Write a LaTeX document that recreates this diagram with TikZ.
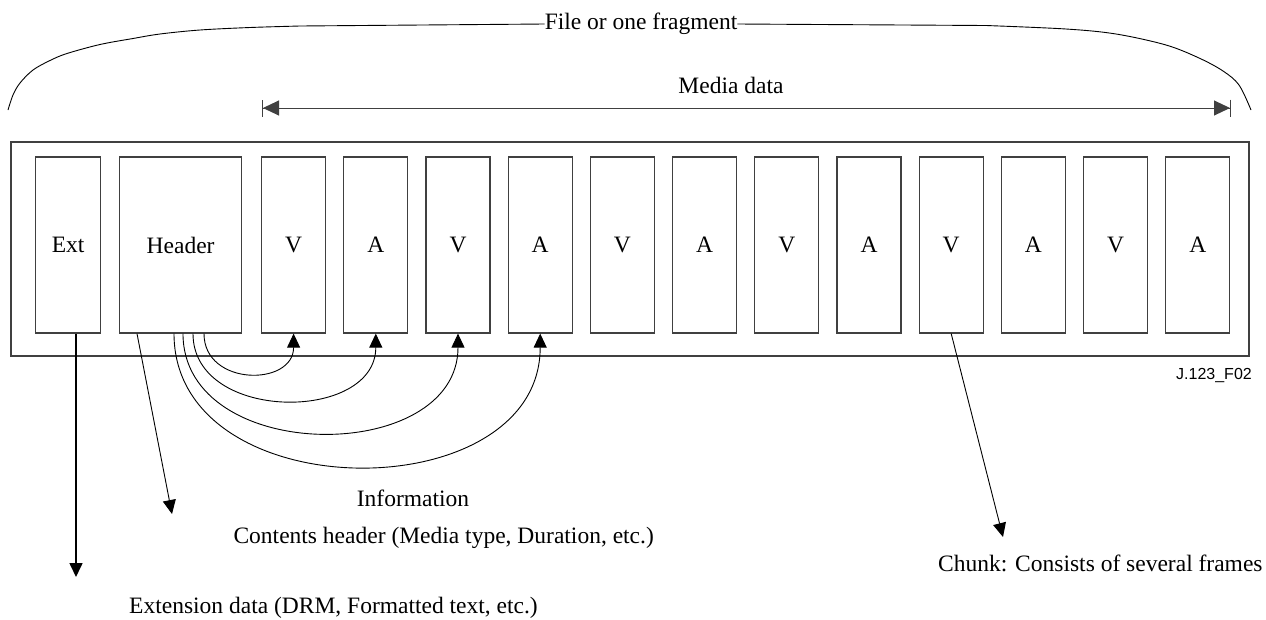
\documentclass[tikz,border=0pt]{standalone}
\usepackage{fontspec}
\setmainfont{Liberation Serif}
\newfontfamily\labelsans{Liberation Sans}
\usetikzlibrary{arrows.meta}

\tikzset{
  frameline/.style={draw=black!75, line width=1.2pt},
  chunkbox/.style={frameline, minimum width=64pt, minimum height=176pt, inner sep=0pt, anchor=west},
  ptr/.style={-{Triangle[length=14pt, width=13pt]}, line width=0.9pt},
  txt/.style={font=\fontsize{23.5}{28}\selectfont, inner sep=0pt},
  bracket/.style={line width=0.9pt},
}

\begin{document}
\begin{tikzpicture}[x=1pt, y=-1pt]
\useasboundingbox (0,0) rectangle (1266,619);

% outer container
\node[frameline, minimum width=1238pt, minimum height=214pt, inner sep=0pt] (frame) at (630,249) {};

% extension and header blocks
\node[chunkbox, txt, minimum width=65pt] (ext) at (35,245) {Ext};
\node[chunkbox, txt, minimum width=122pt] (hdr) at (119,245) {Header};

% media chunks
\foreach \i/\t in {1/V,2/A,3/V,4/A,5/V,6/A,7/V,8/A,9/V,10/A,11/V,12/A} {
  \node[chunkbox, txt] (c\i) at ({261+(\i-1)*82.2},245) {\t};
}

% media data span
\coordinate (mdl) at (262,108);
\coordinate (mdr) at (1231,108);
\draw[frameline, line width=1pt,
      {Bar[width=17pt] Triangle[length=16pt, width=15pt]}-{Triangle[length=16pt, width=15pt] Bar[width=17pt]}]
  (mdl) -- (mdr);
\node[txt] (md) at (731,85) {Media data};

% file / fragment bracket
\node[txt] (file) at (641,24) {File or one fragment};
\draw[bracket] (file.west) -- (300,26)
  plot[smooth, tension=0.55] coordinates {(300,26) (250,27.5) (200,30) (160,34) (133,38.5) (100,44.5) (67,53.5) (50,60.5) (33,70) (20,83) (13,95) (8,110)};
\draw[bracket] (file.east) -- (986,25.5)
  plot[smooth, tension=0.55] coordinates {(986,25.5) (1066,29) (1116,34) (1166,45) (1199,58) (1223,71) (1239,85) (1251,110)};

% header pointers to the first chunks
\draw[ptr] ([xshift=85pt]hdr.south west) .. controls +(0,53) and +(0,53) .. (c1.south);
\draw[ptr] ([xshift=74pt]hdr.south west) .. controls +(0,89) and +(0,89) .. (c2.south);
\draw[ptr] ([xshift=64pt]hdr.south west) .. controls +(0,132) and +(0,132) .. (c3.south);
\draw[ptr] ([xshift=55pt]hdr.south west) .. controls +(0,177) and +(0,177) .. (c4.south);

% callouts
\coordinate (extend) at (76,577);
\coordinate (hdrend) at (172,514);
\coordinate (chkend) at (1003,537);
\draw[ptr, line width=1.6pt] (ext.south west -| extend) -- (extend);
\draw[ptr] ([xshift=18pt]hdr.south west) -- (hdrend);
\draw[ptr] (c9.south) -- (chkend);

\node[txt] (info) at (413,498) {Information};
\node[txt, anchor=east] (cont) at (654,538) {Contents header (Media type, Duration, etc.)};
\node[txt, anchor=west] (extd) at (129,608) {Extension data (DRM, Formatted text, etc.)};
\node[txt, anchor=west] (chunk) at (938,563) {Chunk: Consists of several frames};

% figure tag
\node[font=\labelsans\fontsize{16}{19}\selectfont, inner sep=0pt, anchor=east] (tag) at (1252,375) {J.123\_F02};
\end{tikzpicture}
\end{document}
